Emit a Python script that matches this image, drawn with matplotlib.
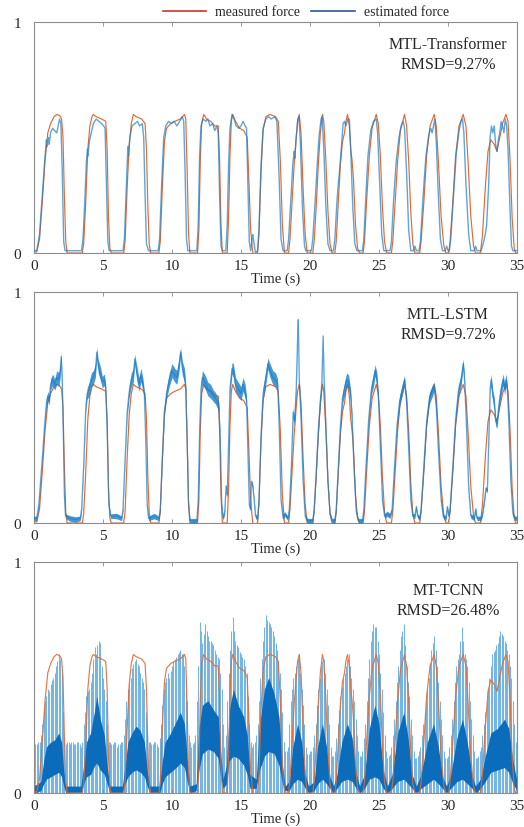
import numpy as np
import matplotlib
matplotlib.use("Agg")
import matplotlib.pyplot as plt
from matplotlib.lines import Line2D

plt.rcParams['font.family'] = ['Liberation Serif', 'DejaVu Serif']

# ---------------- data ----------------
panel_names = ["MTL-Transformer", "MTL-LSTM", "MT-TCNN"]
rmsd_labels = ["RMSD=9.27%", "RMSD=9.72%", "RMSD=26.48%"]
x_ticks = [0, 5, 10, 15, 20, 25, 30, 35]
y_ticks = [0, 1]

# measured force: (time s, value)
measured = [
    (0.0, 0.005), (0.2, 0.005), (0.4, 0.06), (0.6, 0.22), (0.8, 0.40), (1.0, 0.52), (1.2, 0.56), (1.45, 0.59), (1.65, 0.60), (1.85, 0.595), (2.0, 0.58), (2.1, 0.50), (2.2, 0.25), (2.3, 0.05), (2.4, 0.0),
    (3.5, 0.0), (3.6, 0.04), (3.75, 0.22), (3.9, 0.45), (4.05, 0.55), (4.2, 0.59), (4.3, 0.60), (4.5, 0.59), (4.9, 0.58), (5.2, 0.57), (5.3, 0.45), (5.4, 0.15), (5.5, 0.02), (5.6, 0.0),
    (6.5, 0.0), (6.6, 0.05), (6.75, 0.28), (6.9, 0.47), (7.05, 0.56), (7.2, 0.60), (7.4, 0.59), (7.8, 0.58), (8.05, 0.56), (8.15, 0.45), (8.25, 0.20), (8.35, 0.04), (8.45, 0.0),
    (9.05, 0.0), (9.15, 0.05), (9.3, 0.28), (9.45, 0.48), (9.6, 0.54), (9.9, 0.56), (10.2, 0.57), (10.6, 0.58), (10.9, 0.60), (11.0, 0.58), (11.1, 0.35), (11.2, 0.08), (11.3, 0.0),
    (11.85, 0.0), (11.95, 0.10), (12.05, 0.40), (12.15, 0.56), (12.3, 0.60), (12.5, 0.58), (12.8, 0.57), (13.1, 0.55), (13.35, 0.55), (13.45, 0.40), (13.55, 0.12), (13.65, 0.0),
    (14.0, 0.0), (14.1, 0.15), (14.2, 0.42), (14.3, 0.57), (14.4, 0.60), (14.6, 0.57), (14.9, 0.54), (15.2, 0.53), (15.45, 0.50), (15.55, 0.35), (15.7, 0.10), (15.85, 0.0), (15.95, -0.005),
    (16.2, 0.0), (16.3, 0.08), (16.45, 0.35), (16.6, 0.53), (16.8, 0.59), (17.1, 0.60), (17.5, 0.59), (17.7, 0.57), (17.85, 0.40), (18.0, 0.12), (18.15, 0.0),
    (18.45, 0.0), (18.55, 0.06), (18.7, 0.22), (18.85, 0.38), (19.0, 0.50), (19.1, 0.57), (19.22, 0.60), (19.35, 0.52), (19.5, 0.28), (19.65, 0.08), (19.8, 0.0),
    (20.2, 0.0), (20.3, 0.05), (20.45, 0.20), (20.6, 0.38), (20.75, 0.52), (20.9, 0.60), (21.0, 0.57), (21.15, 0.40), (21.3, 0.18), (21.45, 0.04), (21.6, 0.0),
    (21.8, 0.0), (21.9, 0.05), (22.05, 0.22), (22.2, 0.38), (22.35, 0.48), (22.5, 0.52), (22.6, 0.57), (22.72, 0.60), (22.85, 0.55), (22.95, 0.45), (23.05, 0.40), (23.15, 0.32), (23.3, 0.12), (23.45, 0.02), (23.6, 0.0),
    (23.85, 0.0), (23.95, 0.05), (24.1, 0.22), (24.3, 0.42), (24.5, 0.54), (24.8, 0.60), (24.95, 0.56), (25.1, 0.42), (25.25, 0.20), (25.4, 0.05), (25.55, 0.0),
    (25.9, 0.0), (26.0, 0.05), (26.15, 0.20), (26.35, 0.40), (26.55, 0.53), (26.85, 0.60), (27.0, 0.55), (27.15, 0.40), (27.3, 0.18), (27.45, 0.04), (27.6, 0.0),
    (27.95, 0.0), (28.05, 0.05), (28.25, 0.22), (28.45, 0.42), (28.7, 0.55), (29.0, 0.60), (29.15, 0.55), (29.3, 0.40), (29.5, 0.16), (29.7, 0.03), (29.85, 0.0),
    (30.05, 0.0), (30.15, 0.05), (30.35, 0.22), (30.55, 0.42), (30.8, 0.55), (31.1, 0.60), (31.3, 0.55), (31.45, 0.40), (31.65, 0.16), (31.85, 0.03), (32.0, 0.0),
    (32.35, 0.0), (32.5, 0.08), (32.7, 0.28), (32.9, 0.44), (33.1, 0.49), (33.35, 0.47), (33.55, 0.44), (33.75, 0.50), (33.95, 0.56), (34.2, 0.60), (34.35, 0.57), (34.5, 0.40), (34.65, 0.15), (34.8, 0.02), (34.9, 0.0), (35.0, 0.0),
]

# MTL-Transformer estimate: (time s, value)
est_transformer = [
    (0.0, 0.01), (0.2, 0.01), (0.4, 0.08), (0.6, 0.25), (0.8, 0.42), (0.9, 0.49), (0.95, 0.46), (1.05, 0.50), (1.1, 0.47), (1.2, 0.52), (1.35, 0.54), (1.5, 0.53), (1.65, 0.52), (1.75, 0.55), (1.85, 0.58), (1.95, 0.56), (2.05, 0.35), (2.15, 0.05), (2.25, 0.01),
    (3.45, 0.01), (3.55, 0.06), (3.7, 0.25), (3.8, 0.40), (3.88, 0.45), (3.92, 0.42), (4.0, 0.48), (4.15, 0.52), (4.3, 0.56), (4.5, 0.58), (4.7, 0.57), (4.9, 0.56), (5.05, 0.55), (5.15, 0.54), (5.25, 0.30), (5.35, 0.05), (5.45, 0.01),
    (6.45, 0.01), (6.55, 0.06), (6.7, 0.30), (6.8, 0.46), (6.85, 0.42), (6.95, 0.50), (7.1, 0.55), (7.3, 0.56), (7.5, 0.57), (7.65, 0.55), (7.85, 0.56), (7.95, 0.50), (8.05, 0.25), (8.15, 0.04), (8.3, 0.01),
    (9.0, 0.01), (9.1, 0.06), (9.25, 0.30), (9.4, 0.50), (9.55, 0.55), (9.75, 0.57), (9.95, 0.56), (10.15, 0.57), (10.35, 0.55), (10.55, 0.57), (10.75, 0.59), (10.85, 0.57), (10.95, 0.35), (11.05, 0.06), (11.15, 0.01),
    (11.8, 0.01), (11.9, 0.12), (12.0, 0.42), (12.1, 0.55), (12.25, 0.58), (12.45, 0.57), (12.6, 0.58), (12.75, 0.55), (12.95, 0.56), (13.1, 0.53), (13.25, 0.55), (13.35, 0.52), (13.45, 0.25), (13.55, 0.03), (13.65, 0.01),
    (13.9, 0.01), (14.0, 0.12), (14.1, 0.38), (14.2, 0.54), (14.35, 0.60), (14.5, 0.58), (14.65, 0.55), (14.85, 0.54), (15.0, 0.55), (15.15, 0.57), (15.3, 0.55), (15.4, 0.54), (15.5, 0.30), (15.6, 0.05), (15.7, 0.01), (15.8, 0.06), (15.85, 0.08), (15.95, 0.04), (16.05, 0.0),
    (16.2, 0.01), (16.3, 0.10), (16.45, 0.38), (16.6, 0.54), (16.8, 0.58), (17.0, 0.59), (17.2, 0.58), (17.45, 0.59), (17.6, 0.57), (17.75, 0.35), (17.9, 0.06), (18.05, 0.01),
    (18.35, 0.01), (18.45, 0.06), (18.6, 0.22), (18.75, 0.38), (18.85, 0.44), (18.9, 0.41), (19.0, 0.50), (19.12, 0.58), (19.2, 0.59), (19.3, 0.48), (19.45, 0.20), (19.6, 0.03), (19.7, 0.01),
    (20.1, 0.01), (20.2, 0.06), (20.35, 0.20), (20.5, 0.36), (20.65, 0.50), (20.8, 0.58), (20.88, 0.59), (21.0, 0.45), (21.15, 0.20), (21.3, 0.04), (21.45, 0.01),
    (21.7, 0.01), (21.8, 0.06), (21.95, 0.22), (22.05, 0.30), (22.15, 0.36), (22.3, 0.48), (22.4, 0.56), (22.5, 0.57), (22.6, 0.55), (22.75, 0.58), (22.85, 0.58), (22.95, 0.45), (23.1, 0.20), (23.25, 0.04), (23.4, 0.01),
    (23.8, 0.01), (23.9, 0.06), (24.05, 0.25), (24.2, 0.42), (24.4, 0.53), (24.6, 0.57), (24.8, 0.58), (24.9, 0.52), (25.05, 0.30), (25.2, 0.08), (25.35, 0.01),
    (25.8, 0.01), (25.9, 0.05), (26.05, 0.22), (26.25, 0.40), (26.45, 0.50), (26.6, 0.55), (26.75, 0.57), (26.85, 0.54), (27.0, 0.35), (27.15, 0.10), (27.3, 0.01), (27.5, 0.01), (27.6, 0.03), (27.7, 0.01),
    (27.9, 0.01), (28.0, 0.05), (28.2, 0.25), (28.4, 0.42), (28.6, 0.51), (28.75, 0.54), (28.85, 0.52), (28.95, 0.55), (29.05, 0.58), (29.15, 0.48), (29.3, 0.25), (29.45, 0.06), (29.6, 0.01), (29.8, 0.01), (29.9, 0.03), (30.0, 0.01),
    (30.1, 0.01), (30.2, 0.06), (30.4, 0.25), (30.6, 0.43), (30.8, 0.53), (30.95, 0.57), (31.05, 0.58), (31.15, 0.52), (31.3, 0.30), (31.5, 0.08), (31.65, 0.01), (31.9, 0.01), (32.0, 0.03), (32.1, 0.01),
    (32.4, 0.01), (32.55, 0.04), (32.7, 0.08), (32.8, 0.12), (32.95, 0.30), (33.05, 0.50), (33.15, 0.55), (33.25, 0.52), (33.35, 0.55), (33.45, 0.47), (33.55, 0.44), (33.65, 0.49), (33.75, 0.52), (33.85, 0.57), (33.95, 0.55), (34.05, 0.52), (34.15, 0.58), (34.25, 0.55), (34.35, 0.45), (34.5, 0.18), (34.6, 0.03), (34.7, 0.01), (35.0, 0.01),
]

# MTL-LSTM estimate: (time s, value, noise half-width)
est_lstm = [
    (0.0, 0.02, 0.01), (0.2, 0.02, 0.01), (0.35, 0.08, 0.01), (0.5, 0.20, 0.01), (0.65, 0.32, 0.01), (0.8, 0.45, 0.015), (0.9, 0.52, 0.02), (1.0, 0.55, 0.02), (1.1, 0.53, 0.02), (1.2, 0.60, 0.025), (1.35, 0.62, 0.025), (1.5, 0.60, 0.025), (1.65, 0.63, 0.03), (1.8, 0.62, 0.03), (1.9, 0.66, 0.03), (1.97, 0.72, 0.02), (2.05, 0.60, 0.02), (2.12, 0.40, 0.01), (2.2, 0.12, 0.01), (2.28, 0.03, 0.01), (2.6, 0.02, 0.012), (3.0, 0.015, 0.012), (3.35, 0.02, 0.01),
    (3.45, 0.06, 0.01), (3.6, 0.25, 0.015), (3.75, 0.50, 0.02), (3.85, 0.56, 0.025), (4.0, 0.58, 0.03), (4.15, 0.62, 0.03), (4.3, 0.63, 0.03), (4.45, 0.66, 0.03), (4.55, 0.74, 0.02), (4.65, 0.68, 0.03), (4.8, 0.65, 0.03), (4.95, 0.61, 0.025), (5.1, 0.62, 0.025), (5.2, 0.58, 0.02), (5.3, 0.40, 0.015), (5.42, 0.08, 0.01), (5.55, 0.03, 0.01), (6.0, 0.03, 0.012), (6.35, 0.02, 0.01),
    (6.45, 0.06, 0.01), (6.6, 0.28, 0.015), (6.75, 0.48, 0.02), (6.9, 0.57, 0.025), (7.05, 0.62, 0.03), (7.2, 0.64, 0.03), (7.3, 0.71, 0.02), (7.45, 0.65, 0.03), (7.6, 0.60, 0.03), (7.75, 0.64, 0.03), (7.9, 0.60, 0.025), (8.0, 0.55, 0.02), (8.1, 0.35, 0.015), (8.2, 0.08, 0.01), (8.3, 0.02, 0.01), (8.7, 0.03, 0.012), (9.05, 0.02, 0.01),
    (9.15, 0.06, 0.01), (9.3, 0.28, 0.015), (9.45, 0.48, 0.02), (9.6, 0.56, 0.025), (9.8, 0.62, 0.03), (10.0, 0.66, 0.03), (10.2, 0.64, 0.03), (10.35, 0.63, 0.03), (10.5, 0.68, 0.03), (10.62, 0.74, 0.02), (10.75, 0.67, 0.03), (10.9, 0.64, 0.03), (11.0, 0.58, 0.02), (11.1, 0.35, 0.015), (11.2, 0.08, 0.01), (11.3, 0.01, 0.01), (11.8, 0.01, 0.01),
    (11.9, 0.10, 0.01), (12.0, 0.40, 0.015), (12.1, 0.58, 0.025), (12.2, 0.63, 0.03), (12.4, 0.61, 0.03), (12.6, 0.58, 0.03), (12.8, 0.57, 0.03), (13.0, 0.55, 0.025), (13.15, 0.54, 0.025), (13.3, 0.52, 0.025), (13.4, 0.50, 0.02), (13.5, 0.35, 0.015), (13.6, 0.08, 0.01), (13.7, 0.02, 0.01), (13.82, 0.05, 0.01), (13.92, 0.16, 0.01), (14.0, 0.12, 0.01),
    (14.1, 0.35, 0.015), (14.2, 0.58, 0.025), (14.35, 0.67, 0.025), (14.45, 0.66, 0.03), (14.6, 0.60, 0.03), (14.8, 0.58, 0.03), (15.0, 0.56, 0.03), (15.15, 0.60, 0.03), (15.3, 0.57, 0.03), (15.4, 0.53, 0.02), (15.5, 0.30, 0.015), (15.6, 0.08, 0.01), (15.68, 0.06, 0.01), (15.75, 0.18, 0.01), (15.85, 0.16, 0.01), (15.95, 0.10, 0.01), (16.05, 0.03, 0.01), (16.2, 0.02, 0.01),
    (16.3, 0.10, 0.01), (16.45, 0.38, 0.015), (16.6, 0.56, 0.025), (16.8, 0.63, 0.03), (16.95, 0.69, 0.025), (17.1, 0.66, 0.03), (17.3, 0.63, 0.03), (17.5, 0.62, 0.03), (17.65, 0.60, 0.025), (17.75, 0.45, 0.015), (17.9, 0.10, 0.01), (18.05, 0.02, 0.01), (18.15, 0.04, 0.01), (18.4, 0.02, 0.01),
    (18.5, 0.06, 0.01), (18.65, 0.25, 0.015), (18.78, 0.48, 0.02), (18.88, 0.44, 0.02), (19.0, 0.58, 0.02), (19.1, 0.80, 0.02), (19.15, 0.88, 0.01), (19.22, 0.62, 0.02), (19.35, 0.45, 0.015), (19.5, 0.18, 0.01), (19.65, 0.03, 0.01), (19.8, 0.01, 0.01), (20.2, 0.01, 0.01),
    (20.3, 0.06, 0.01), (20.45, 0.22, 0.015), (20.6, 0.40, 0.02), (20.75, 0.53, 0.02), (20.85, 0.60, 0.02), (20.95, 0.81, 0.01), (21.02, 0.62, 0.02), (21.15, 0.42, 0.015), (21.3, 0.18, 0.01), (21.45, 0.04, 0.01), (21.6, 0.01, 0.01), (21.8, 0.01, 0.01),
    (21.9, 0.06, 0.01), (22.05, 0.24, 0.015), (22.2, 0.42, 0.02), (22.35, 0.54, 0.025), (22.5, 0.58, 0.03), (22.65, 0.62, 0.03), (22.8, 0.61, 0.03), (22.95, 0.55, 0.025), (23.05, 0.45, 0.02), (23.2, 0.22, 0.015), (23.35, 0.05, 0.01), (23.5, 0.01, 0.01), (23.8, 0.01, 0.01),
    (23.9, 0.06, 0.01), (24.05, 0.24, 0.015), (24.25, 0.45, 0.02), (24.45, 0.58, 0.025), (24.6, 0.62, 0.03), (24.72, 0.66, 0.025), (24.85, 0.62, 0.03), (24.95, 0.55, 0.02), (25.1, 0.32, 0.015), (25.25, 0.10, 0.01), (25.4, 0.03, 0.01), (25.6, 0.04, 0.012), (25.8, 0.03, 0.01),
    (25.95, 0.06, 0.01), (26.1, 0.22, 0.015), (26.3, 0.42, 0.02), (26.5, 0.53, 0.025), (26.7, 0.58, 0.025), (26.85, 0.62, 0.02), (27.0, 0.52, 0.02), (27.15, 0.32, 0.015), (27.3, 0.10, 0.01), (27.45, 0.03, 0.01), (27.6, 0.03, 0.01), (27.7, 0.07, 0.01), (27.8, 0.03, 0.01), (27.95, 0.02, 0.01),
    (28.05, 0.06, 0.01), (28.25, 0.25, 0.015), (28.45, 0.44, 0.02), (28.65, 0.54, 0.025), (28.85, 0.57, 0.025), (29.0, 0.59, 0.02), (29.15, 0.50, 0.02), (29.3, 0.32, 0.015), (29.5, 0.10, 0.01), (29.65, 0.03, 0.01), (29.85, 0.02, 0.01), (29.95, 0.07, 0.01), (30.05, 0.03, 0.01),
    (30.15, 0.06, 0.01), (30.35, 0.25, 0.015), (30.55, 0.45, 0.02), (30.75, 0.57, 0.025), (30.95, 0.62, 0.025), (31.1, 0.69, 0.02), (31.2, 0.62, 0.02), (31.35, 0.40, 0.015), (31.5, 0.15, 0.01), (31.65, 0.03, 0.01), (31.9, 0.02, 0.01), (32.0, 0.06, 0.01), (32.1, 0.02, 0.01), (32.4, 0.02, 0.01),
    (32.5, 0.04, 0.01), (32.65, 0.10, 0.01), (32.75, 0.15, 0.01), (32.85, 0.14, 0.01), (32.95, 0.35, 0.015), (33.05, 0.58, 0.02), (33.12, 0.62, 0.025), (33.25, 0.55, 0.025), (33.35, 0.52, 0.025), (33.45, 0.44, 0.02), (33.55, 0.43, 0.02), (33.7, 0.52, 0.025), (33.85, 0.58, 0.025), (34.0, 0.62, 0.025), (34.1, 0.58, 0.025), (34.2, 0.62, 0.025), (34.3, 0.58, 0.025), (34.4, 0.45, 0.02), (34.55, 0.18, 0.01), (34.7, 0.04, 0.01), (34.85, 0.02, 0.01), (35.0, 0.02, 0.01),
]

# MT-TCNN estimate: dense oscillation band (time s, lower, upper)
tcnn_band = [
    (0.0, 0.00, 0.03), (0.5, 0.01, 0.05), (0.7, 0.04, 0.14), (0.9, 0.06, 0.20), (1.2, 0.07, 0.22), (1.5, 0.08, 0.23), (1.8, 0.09, 0.26), (2.0, 0.07, 0.22), (2.15, 0.03, 0.10), (2.3, 0.00, 0.03),
    (3.4, 0.00, 0.03), (3.6, 0.04, 0.12), (3.8, 0.07, 0.22), (4.1, 0.08, 0.26), (4.4, 0.12, 0.36), (4.55, 0.13, 0.42), (4.8, 0.10, 0.32), (5.1, 0.08, 0.25), (5.3, 0.04, 0.12), (5.5, 0.00, 0.03),
    (6.4, 0.00, 0.03), (6.6, 0.04, 0.12), (6.8, 0.07, 0.22), (7.1, 0.09, 0.26), (7.4, 0.10, 0.29), (7.7, 0.09, 0.27), (8.0, 0.07, 0.22), (8.2, 0.03, 0.10), (8.4, 0.00, 0.03),
    (9.1, 0.00, 0.03), (9.3, 0.04, 0.14), (9.5, 0.07, 0.22), (9.9, 0.09, 0.26), (10.3, 0.11, 0.31), (10.6, 0.13, 0.35), (10.9, 0.11, 0.30), (11.1, 0.05, 0.15), (11.3, 0.00, 0.03),
    (11.75, 0.01, 0.04), (11.95, 0.10, 0.28), (12.2, 0.17, 0.38), (12.6, 0.19, 0.40), (13.0, 0.18, 0.36), (13.35, 0.15, 0.33), (13.55, 0.06, 0.16), (13.7, 0.02, 0.06),
    (13.95, 0.04, 0.12), (14.15, 0.14, 0.36), (14.45, 0.16, 0.45), (14.8, 0.15, 0.38), (15.2, 0.12, 0.33), (15.45, 0.08, 0.25), (15.65, 0.02, 0.08),
    (16.1, 0.02, 0.06), (16.35, 0.10, 0.30), (16.7, 0.16, 0.45), (17.0, 0.18, 0.50), (17.4, 0.17, 0.43), (17.75, 0.12, 0.33), (18.0, 0.04, 0.12), (18.2, 0.01, 0.03),
    (18.5, 0.01, 0.05), (18.75, 0.04, 0.20), (19.1, 0.06, 0.30), (19.4, 0.05, 0.22), (19.65, 0.02, 0.08), (19.9, 0.00, 0.03),
    (20.3, 0.01, 0.05), (20.55, 0.04, 0.20), (20.9, 0.06, 0.30), (21.2, 0.04, 0.20), (21.45, 0.02, 0.07), (21.7, 0.00, 0.03),
    (21.95, 0.02, 0.08), (22.3, 0.05, 0.22), (22.7, 0.06, 0.30), (23.05, 0.05, 0.24), (23.35, 0.02, 0.08), (23.6, 0.00, 0.03),
    (23.95, 0.02, 0.08), (24.3, 0.06, 0.28), (24.7, 0.07, 0.38), (25.0, 0.06, 0.30), (25.3, 0.02, 0.10), (25.6, 0.00, 0.03),
    (25.95, 0.02, 0.08), (26.35, 0.05, 0.26), (26.8, 0.06, 0.35), (27.1, 0.04, 0.24), (27.4, 0.02, 0.08), (27.7, 0.00, 0.03),
    (28.05, 0.02, 0.08), (28.5, 0.04, 0.22), (28.95, 0.06, 0.30), (29.3, 0.04, 0.20), (29.6, 0.02, 0.07), (29.9, 0.00, 0.03),
    (30.2, 0.02, 0.08), (30.65, 0.05, 0.24), (31.05, 0.06, 0.32), (31.4, 0.04, 0.22), (31.75, 0.02, 0.07), (32.0, 0.00, 0.03),
    (32.35, 0.02, 0.06), (32.7, 0.05, 0.16), (33.1, 0.09, 0.26), (33.6, 0.10, 0.28), (34.1, 0.11, 0.32), (34.4, 0.09, 0.28), (34.7, 0.04, 0.14), (35.0, 0.01, 0.05),
]

# MT-TCNN estimate: spike tops, one every 0.2 s from t = 0
tcnn_spike_step = 0.2
tcnn_spikes = [
    0.22, 0.21, 0.22, 0.30, 0.40, 0.45, 0.47, 0.50, 0.55, 0.60,   # 0.0 - 1.8
    0.52, 0.22, 0.22, 0.21, 0.22, 0.21, 0.22, 0.20, 0.30, 0.42,   # 2.0 - 3.8
    0.45, 0.52, 0.63, 0.64, 0.65, 0.50, 0.40, 0.22, 0.21, 0.22,   # 4.0 - 5.8
    0.20, 0.21, 0.22, 0.32, 0.45, 0.50, 0.56, 0.58, 0.55, 0.50,   # 6.0 - 7.8
    0.45, 0.25, 0.22, 0.21, 0.22, 0.20, 0.30, 0.45, 0.50, 0.50,   # 8.0 - 9.8
    0.55, 0.58, 0.60, 0.62, 0.60, 0.50, 0.25, 0.20, 0.22, 0.40,   # 10.0 - 11.8
    0.74, 0.65, 0.73, 0.68, 0.66, 0.64, 0.60, 0.58, 0.45, 0.20,   # 12.0 - 13.8
    0.40, 0.62, 0.76, 0.66, 0.63, 0.60, 0.58, 0.52, 0.30, 0.20,   # 14.0 - 15.8
    0.22, 0.30, 0.50, 0.66, 0.77, 0.74, 0.72, 0.68, 0.62, 0.52,   # 16.0 - 17.8
    0.35, 0.18, 0.20, 0.40, 0.50, 0.55, 0.60, 0.45, 0.30, 0.17,   # 18.0 - 19.8
    0.18, 0.20, 0.30, 0.45, 0.55, 0.58, 0.45, 0.30, 0.16, 0.18,   # 20.0 - 21.8
    0.30, 0.42, 0.50, 0.55, 0.60, 0.50, 0.40, 0.25, 0.16, 0.18,   # 22.0 - 23.8
    0.30, 0.50, 0.66, 0.73, 0.72, 0.60, 0.45, 0.25, 0.15, 0.17,   # 24.0 - 25.8
    0.25, 0.40, 0.55, 0.68, 0.73, 0.55, 0.42, 0.25, 0.15, 0.16,   # 26.0 - 27.8
    0.20, 0.30, 0.40, 0.50, 0.62, 0.68, 0.55, 0.40, 0.25, 0.15,   # 28.0 - 29.8
    0.16, 0.25, 0.40, 0.55, 0.60, 0.72, 0.60, 0.55, 0.40, 0.25,   # 30.0 - 31.8
    0.15, 0.16, 0.20, 0.30, 0.40, 0.50, 0.60, 0.62, 0.65, 0.70,   # 32.0 - 33.8
    0.68, 0.65, 0.60, 0.50, 0.30, 0.15,                           # 34.0 - 35.0
]

# MT-TCNN estimate: in-between spike tops, one every 0.2 s from t = 0.1
tcnn_mid_start = 0.1
tcnn_spikes_mid = [
    0.21, 0.22, 0.25, 0.36, 0.42, 0.44, 0.49, 0.52, 0.57, 0.58,   # 0.1 - 1.9
    0.35, 0.21, 0.22, 0.22, 0.21, 0.22, 0.21, 0.22, 0.35, 0.44,   # 2.1 - 3.9
    0.48, 0.58, 0.60, 0.66, 0.55, 0.45, 0.30, 0.22, 0.21, 0.22,   # 4.1 - 5.9
    0.21, 0.22, 0.25, 0.40, 0.48, 0.54, 0.57, 0.56, 0.52, 0.48,   # 6.1 - 7.9
    0.35, 0.22, 0.21, 0.22, 0.21, 0.24, 0.38, 0.48, 0.52, 0.53,   # 8.1 - 9.9
    0.57, 0.59, 0.61, 0.60, 0.55, 0.40, 0.22, 0.21, 0.25, 0.55,   # 10.1 - 11.9
    0.70, 0.69, 0.70, 0.66, 0.65, 0.62, 0.59, 0.52, 0.30, 0.25,   # 12.1 - 13.9
    0.52, 0.70, 0.70, 0.64, 0.61, 0.59, 0.55, 0.42, 0.22, 0.21,   # 14.1 - 15.9
    0.25, 0.40, 0.58, 0.72, 0.75, 0.73, 0.70, 0.65, 0.57, 0.45,   # 16.1 - 17.9
    0.22, 0.18, 0.30, 0.45, 0.52, 0.58, 0.52, 0.38, 0.20, 0.17,   # 18.1 - 19.9
    0.18, 0.25, 0.38, 0.50, 0.57, 0.52, 0.38, 0.20, 0.16, 0.24,   # 20.1 - 21.9
    0.36, 0.46, 0.52, 0.58, 0.55, 0.45, 0.32, 0.18, 0.16, 0.24,   # 22.1 - 23.9
    0.40, 0.58, 0.70, 0.72, 0.66, 0.52, 0.35, 0.18, 0.16, 0.20,   # 24.1 - 25.9
    0.32, 0.48, 0.62, 0.70, 0.64, 0.48, 0.32, 0.18, 0.15, 0.18,   # 26.1 - 27.9
    0.25, 0.35, 0.45, 0.56, 0.65, 0.62, 0.48, 0.32, 0.18, 0.15,   # 28.1 - 29.9
    0.20, 0.32, 0.48, 0.58, 0.66, 0.66, 0.58, 0.48, 0.32, 0.18,   # 30.1 - 31.9
    0.15, 0.18, 0.25, 0.35, 0.45, 0.55, 0.61, 0.64, 0.68, 0.69,   # 32.1 - 33.9
    0.66, 0.62, 0.55, 0.40, 0.22,                                 # 34.1 - 34.9
]

# ---------------- styling ----------------
C_MEAS = '#E36A35'
C_EST = '#1A7FC8'
C_SPIKE = '#74B5E3'
C_BAND = '#0A6CBA'
C_AXIS = '#8C8C8C'
C_TEXT = '#262626'


def style_axes(ax):
    ax.set_xlim(0, 35)
    ax.set_ylim(0, 1)
    ax.set_xticks(x_ticks)
    ax.set_yticks(y_ticks)
    ax.set_yticklabels([str(v) for v in y_ticks])
    ax.tick_params(direction='in', top=True, right=False, length=3, width=0.6,
                   colors=C_AXIS, labelcolor=C_TEXT, labelsize=11, pad=4)
    ax.tick_params(axis='y', left=False, pad=9)
    for sp in ax.spines.values():
        sp.set_color(C_AXIS)
        sp.set_linewidth(0.8)
    ax.set_xlabel('Time (s)', fontsize=10.5, color=C_TEXT, labelpad=0)


def draw_text(ax, name, rmsd, ytop):
    ax.text(0.857, ytop, name, transform=ax.transAxes, ha='center', va='center',
            fontsize=11.5, color=C_TEXT)
    ax.text(0.857, ytop - 0.087, rmsd, transform=ax.transAxes, ha='center', va='center',
            fontsize=11.5, color=C_TEXT)


fig = plt.figure(figsize=(5.24, 8.28), dpi=100)
W, H = 524.0, 828.0
left = 34 / W
width = 483 / W
tops = [23, 293, 563]
ph = 231
axes = []
for top in tops:
    axes.append(fig.add_axes([left, 1 - (top + ph) / H, width, ph / H]))

mt = np.array([p[0] for p in measured])
mv = np.array([p[1] for p in measured])

# Panel 1: MTL-Transformer
ax = axes[0]
ax.plot(mt, mv, color=C_MEAS, lw=0.85, zorder=2)
tt = np.array([p[0] for p in est_transformer])
tv = np.array([p[1] for p in est_transformer])
ax.plot(tt, tv, color=C_EST, lw=1.0, alpha=0.7, zorder=3)
style_axes(ax)
draw_text(ax, panel_names[0], rmsd_labels[0], 0.904)

# Panel 2: MTL-LSTM
ax = axes[1]
ax.plot(mt, mv, color=C_MEAS, lw=0.85, zorder=2)
lt = np.array([p[0] for p in est_lstm])
lv = np.array([p[1] for p in est_lstm])
lw_ = np.array([p[2] for p in est_lstm])
ax.fill_between(lt, lv - lw_, lv + lw_, color=C_EST, alpha=0.8, lw=0, zorder=3)
ax.plot(lt, lv, color=C_EST, lw=0.9, alpha=0.7, zorder=3)
style_axes(ax)
draw_text(ax, panel_names[1], rmsd_labels[1], 0.904)

# Panel 3: MT-TCNN
ax = axes[2]
bt = np.array([p[0] for p in tcnn_band])
blo = np.array([p[1] for p in tcnn_band])
bhi = np.array([p[2] for p in tcnn_band])
st = np.arange(len(tcnn_spikes)) * tcnn_spike_step
sv = np.array(tcnn_spikes)
st2 = tcnn_mid_start + np.arange(len(tcnn_spikes_mid)) * tcnn_spike_step
sv2 = np.array(tcnn_spikes_mid)
ax.vlines(st, 0.0, sv, color=C_SPIKE, lw=0.75, zorder=1)
ax.vlines(st2, 0.0, sv2, color=C_SPIKE, lw=0.75, zorder=1)
ax.fill_between(bt, blo, bhi, color=C_BAND, lw=0, zorder=2)
ax.plot(mt, mv, color=C_MEAS, lw=0.85, alpha=0.9, zorder=3)
style_axes(ax)
draw_text(ax, panel_names[2], rmsd_labels[2], 0.88)

# Legend
handles = [Line2D([], [], color='#C8372D', lw=1.2),
           Line2D([], [], color='#2F5597', lw=1.2)]
fig.legend(handles, ['measured force', 'estimated force'], loc='center',
           bbox_to_anchor=(306 / W, 1 - 13 / H), ncol=2, frameon=False,
           fontsize=10, handlelength=3.1, columnspacing=0.8, handletextpad=0.7,
           labelcolor=C_TEXT)

fig.savefig('out.png', dpi=100)
